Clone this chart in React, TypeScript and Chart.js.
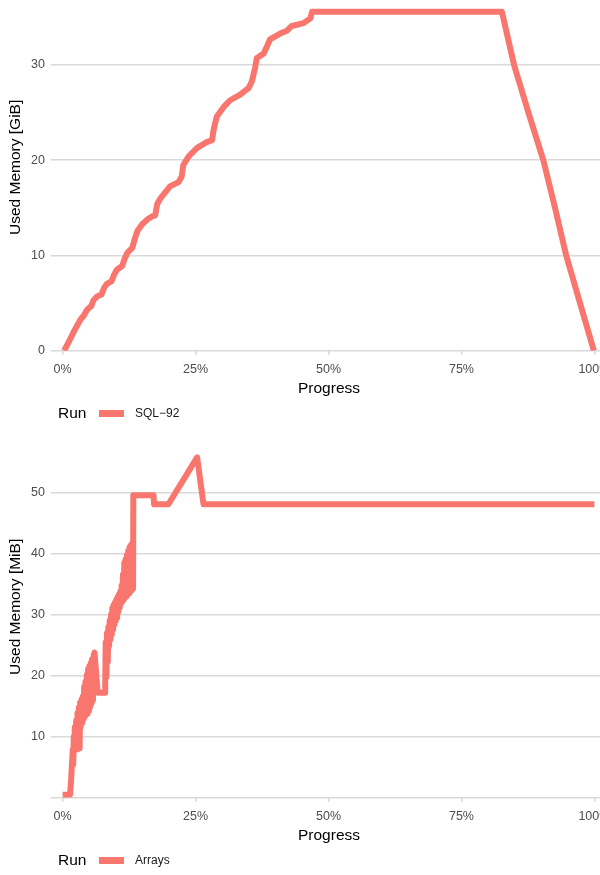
import React, { useEffect, useRef } from "react";
import { Chart, registerables } from "chart.js";

Chart.register(...registerables);

// ---- Data ----
const progressTicks = [0, 25, 50, 75, 100];
const gibTicks = [0, 10, 20, 30];
const mibTicks = [0, 10, 20, 30, 40, 50];

const sqlProgress = [0.3, 1.4, 2.2, 3.0, 3.4, 4.0, 4.6, 5.4, 5.8, 6.5, 7.3, 7.8, 8.3, 9.2, 9.7, 10.2, 11.2, 11.7, 12.2, 13.1, 13.6, 14.1, 15.0, 16.0, 16.8, 17.4, 17.8, 18.4, 20.2, 21.8, 22.4, 22.7, 23.7, 25.3, 27.1, 28.1, 28.4, 29.0, 30.3, 31.5, 33.4, 35.0, 35.6, 36.2, 36.5, 37.8, 38.4, 39.0, 40.9, 42.2, 43.1, 45.3, 46.6, 46.9, 82.6, 84.9, 87.6, 90.4, 92.6, 94.7, 97.3, 99.9];
const sqlMemory = [0.0, 1.2, 2.1, 2.9, 3.3, 3.7, 4.3, 4.7, 5.3, 5.7, 5.9, 6.6, 7.0, 7.3, 8.0, 8.5, 8.9, 9.7, 10.3, 10.8, 11.8, 12.6, 13.3, 13.8, 14.1, 14.2, 15.4, 16.0, 17.25, 17.7, 18.3, 19.5, 20.4, 21.3, 21.9, 22.1, 23.2, 24.6, 25.6, 26.3, 26.9, 27.6, 28.3, 29.7, 30.7, 31.2, 31.9, 32.7, 33.3, 33.6, 34.1, 34.4, 34.9, 35.6, 35.6, 30.0, 25.0, 20.0, 15.0, 10.0, 5.0, 0.0];

const arraysProgress = [0.0, 1.4, 1.6, 1.9, 2.0, 2.1, 2.2, 2.3, 2.45, 2.55, 2.7, 2.8, 2.95, 3.05, 3.2, 3.3, 3.4, 3.55, 3.7, 3.8, 3.95, 4.05, 4.2, 4.3, 4.45, 4.55, 4.7, 4.8, 4.95, 5.05, 5.2, 5.3, 5.45, 5.55, 5.7, 5.85, 6.0, 6.6, 8.0, 8.1, 8.25, 8.35, 8.5, 8.6, 8.75, 8.85, 9.0, 9.1, 9.25, 9.35, 9.5, 9.6, 9.75, 9.85, 10.0, 10.1, 10.25, 10.35, 10.5, 10.6, 10.75, 10.85, 11.0, 11.1, 11.25, 11.35, 11.5, 11.6, 11.75, 11.85, 12.0, 12.1, 12.25, 12.35, 12.5, 12.6, 12.75, 12.85, 13.0, 13.1, 13.25, 13.3, 17.1, 17.2, 19.9, 25.3, 26.5, 100];
const arraysMemory = [0.5, 0.5, 2.9, 7.8, 5.5, 10.0, 7.8, 11.6, 7.9, 12.6, 7.9, 13.9, 8.0, 14.8, 8.1, 15.6, 11.6, 16.1, 12.3, 16.6, 12.9, 18.2, 13.3, 19.0, 13.6, 20.1, 13.8, 21.1, 14.2, 21.6, 14.9, 22.1, 15.5, 22.7, 16.0, 23.4, 23.8, 17.2, 17.2, 25.5, 19.8, 27.0, 22.3, 28.0, 24.9, 29.0, 26.0, 30.0, 26.8, 31.1, 27.6, 31.6, 28.4, 32.0, 29.0, 32.5, 29.5, 32.9, 30.5, 33.3, 31.2, 33.8, 31.9, 34.8, 32.2, 36.6, 32.5, 38.5, 32.8, 39.1, 33.0, 39.8, 33.3, 40.5, 33.5, 41.1, 33.8, 41.4, 34.0, 41.7, 34.3, 49.6, 49.6, 48.1, 48.1, 55.8, 48.1, 48.1];

const LINE_COLOR = "#F8766D";
const GRID_COLOR = "#d9d9d9";
const FONT = "'Liberation Sans', Arial, Helvetica, sans-serif";

function makeConfig(
  xs: number[],
  ys: number[],
  label: string,
  yTicks: number[],
  hideZero: boolean,
  yMax: number,
  yTitle: string,
  padBottom: number
): any {
  const points = xs.map((x, i) => ({ x, y: ys[i] }));
  return {
    type: "line",
    data: {
      datasets: [
        {
          label,
          data: points,
          borderColor: LINE_COLOR,
          backgroundColor: LINE_COLOR,
          borderWidth: 6,
          borderJoinStyle: "round",
          borderCapStyle: "butt",
          borderDash: [100000, 0],
          pointRadius: 0,
          tension: 0,
          fill: false,
        },
      ],
    },
    options: {
      responsive: false,
      animation: false,
      events: [],
      layout: { padding: { left: 0, right: 0, top: 0, bottom: padBottom } },
      plugins: { legend: { display: false }, tooltip: { enabled: false } },
      scales: {
        x: {
          type: "linear",
          min: -1.43,
          max: 101.62,
          afterBuildTicks: (s: any) => {
            s.ticks = progressTicks.map((v) => ({ value: v }));
          },
          ticks: {
            callback: (v: any) => v + "%",
            color: "#4d4d4d",
            font: { size: 12.5, family: FONT },
            padding: 7,
            maxRotation: 0,
            autoSkip: false,
          },
          grid: {
            display: true,
            drawOnChartArea: false,
            drawTicks: true,
            tickLength: 4,
            color: GRID_COLOR,
            lineWidth: 1.6,
          },
          border: { display: false },
          title: {
            display: true,
            text: "Progress",
            color: "#000",
            font: { size: 15.5, family: FONT },
            padding: 0,
          },
          afterFit: (s: any) => {
            s.height = 47.6;
            s.paddingLeft = 0;
            s.paddingRight = 0;
          },
        },
        y: {
          type: "linear",
          min: 0,
          max: yMax,
          afterBuildTicks: (s: any) => {
            s.ticks = yTicks.map((v) => ({ value: v }));
          },
          ticks: {
            callback: (v: any) => (hideZero && v === 0 ? "" : String(v)),
            color: "#4d4d4d",
            font: { size: 12.5, family: FONT },
            padding: 6,
          },
          grid: {
            color: GRID_COLOR,
            lineWidth: 1.6,
            drawTicks: true,
            tickLength: 4,
          },
          border: { display: false },
          title: {
            display: true,
            text: yTitle,
            color: "#000",
            font: { size: 15.5, family: FONT },
            padding: { top: 6.5, bottom: 0 },
          },
          afterFit: (s: any) => {
            s.width = 55;
            s.paddingTop = 0;
            s.paddingBottom = 0;
          },
        },
      },
    },
  };
}

function Legend({ top, label }: { top: number; label: string }) {
  return (
    <div style={{ position: "absolute", left: 0, top: top - 10, width: 600, height: 20, fontFamily: FONT }}>
      <span style={{ position: "absolute", left: 58, top: 0, lineHeight: "20px", fontSize: 15.5, color: "#000" }}>Run</span>
      <div style={{ position: "absolute", left: 99, top: 6.5, width: 25, height: 7, background: LINE_COLOR }} />
      <span style={{ position: "absolute", left: 135, top: 0, lineHeight: "20px", fontSize: 12, color: "#1a1a1a" }}>{label}</span>
    </div>
  );
}

export default function App() {
  const topRef = useRef<HTMLCanvasElement | null>(null);
  const botRef = useRef<HTMLCanvasElement | null>(null);

  useEffect(() => {
    document.body.style.margin = "0";
    const c1 = new Chart(
      topRef.current as HTMLCanvasElement,
      makeConfig(sqlProgress, sqlMemory, "SQL−92", gibTicks, false, 366.7 / 9.523, "Used Memory [GiB]", 416 - 366.7 - 47.6)
    );
    const c2 = new Chart(
      botRef.current as HTMLCanvasElement,
      makeConfig(arraysProgress, arraysMemory, "Arrays", mibTicks, true, 381.7 / 6.1, "Used Memory [MiB]", 459 - 381.7 - 47.6)
    );
    return () => {
      c1.destroy();
      c2.destroy();
    };
  }, []);

  return (
    <div style={{ position: "absolute", left: 0, top: 0, width: 600, height: 875, overflow: "hidden", background: "#fff" }}>
      <canvas ref={topRef} width={603} height={416} style={{ position: "absolute", left: 0, top: -16, display: "block" }} />
      <canvas ref={botRef} width={603} height={459} style={{ position: "absolute", left: 0, top: 416, display: "block" }} />
      <Legend top={413} label="SQL−92" />
      <Legend top={860} label="Arrays" />
    </div>
  );
}
